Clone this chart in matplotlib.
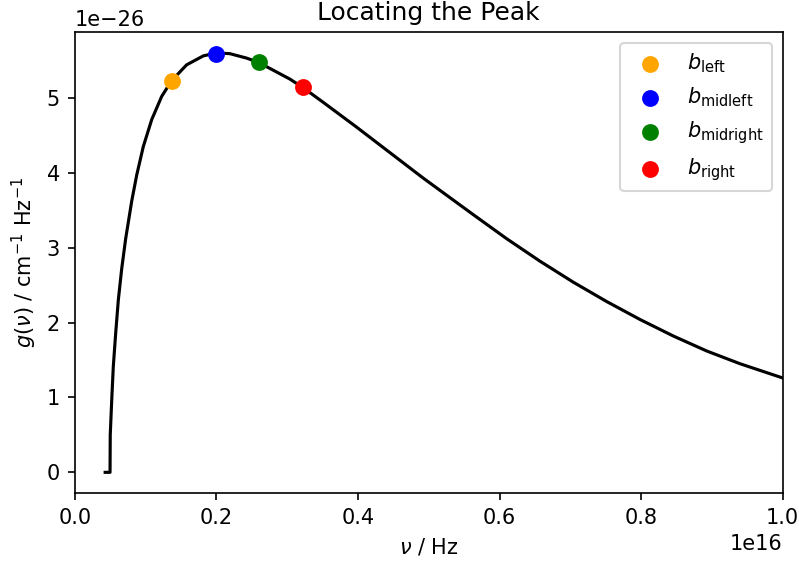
import numpy as np
import matplotlib
matplotlib.use("Agg")
import matplotlib.pyplot as plt

# frequency grid (units of 1e16 Hz) and emissivity (units of 1e-26 cm^-1 Hz^-1)
nu = [0.0430, 0.0499, 0.0502, 0.0523, 0.0545, 0.0579, 0.0616, 0.0664,
      0.0720, 0.0805, 0.0876, 0.0969, 0.1088, 0.1229, 0.1370, 0.1580,
      0.1816, 0.1887, 0.1990, 0.2090, 0.2190, 0.2430, 0.2603, 0.3040,
      0.3220, 0.3510, 0.3980, 0.4450, 0.4920, 0.5630, 0.6100, 0.6570,
      0.7040, 0.7514, 0.7986, 0.8455, 0.8927, 0.9397, 1.0000]
g = [0.00, 0.00, 0.50, 0.97, 1.41, 1.86, 2.30, 2.72,
     3.12, 3.62, 3.97, 4.35, 4.71, 5.02, 5.23, 5.44,
     5.56, 5.575, 5.59, 5.595, 5.59, 5.53, 5.47, 5.25,
     5.14, 4.94, 4.61, 4.27, 3.93, 3.44, 3.12, 2.82,
     2.54, 2.28, 2.04, 1.82, 1.62, 1.45, 1.26]

# bracket points used by the peak search
bracket_names = ["left", "midleft", "midright", "right"]
bracket_nu = [0.137, 0.199, 0.2603, 0.322]
bracket_g = [5.22, 5.585, 5.475, 5.14]
bracket_colors = ["orange", "blue", "green", "red"]

nu = np.array(nu) * 1e16
g = np.array(g) * 1e-26

fig, ax = plt.subplots(figsize=(799 / 150, 561 / 150), dpi=150)
fig.subplots_adjust(left=0.0935, right=0.9796, bottom=0.1207, top=0.9424)

ax.plot(nu, g, color="black", linewidth=1.5, zorder=2)
for name, x, y, c in zip(bracket_names, bracket_nu, bracket_g, bracket_colors):
    ax.scatter(x * 1e16, y * 1e-26, color=c, s=50, zorder=3,
               label=r"$b_{\rm %s}$" % name)

ax.set_xlim(0, 1e16)
ax.set_xlabel(r"$\nu$ / Hz")
ax.set_ylabel(r"$g(\nu)$ / cm$^{-1}$ Hz$^{-1}$")
ax.set_title("Locating the Peak")
ax.legend(loc="upper right")

fig.savefig("out.png", dpi=150)
